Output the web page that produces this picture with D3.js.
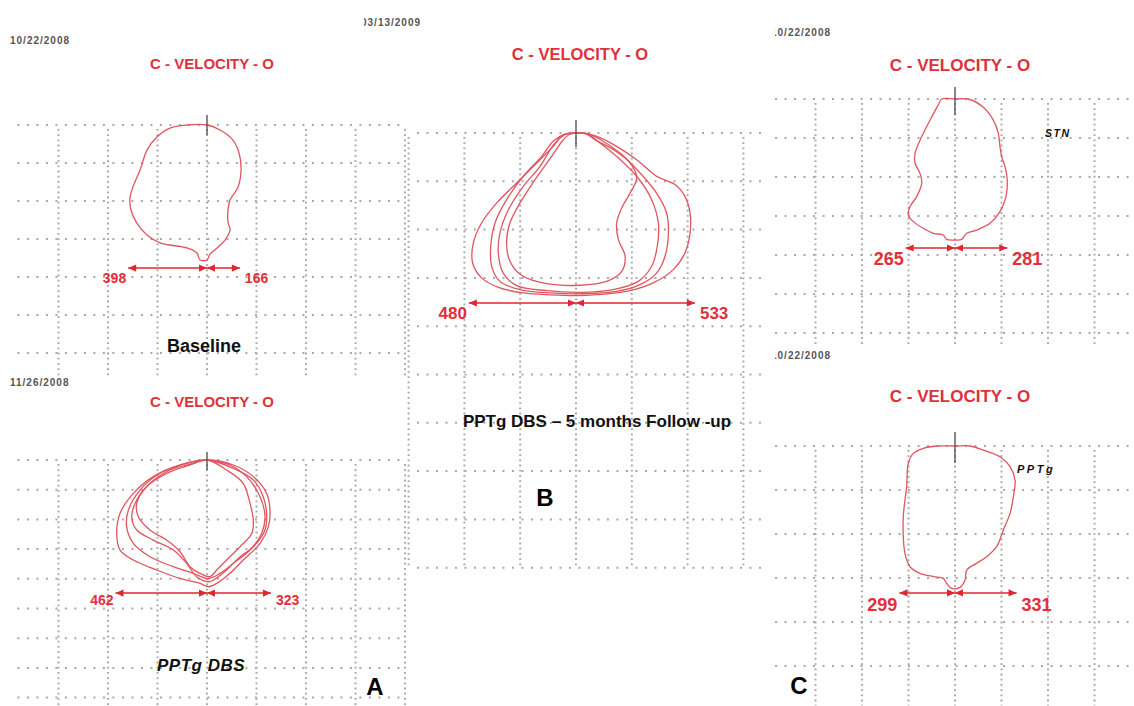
<!DOCTYPE html>
<html>
<head>
<meta charset="utf-8">
<script src="https://cdn.jsdelivr.net/npm/d3@7"></script>
<style>
  body { margin: 0; background: #fff; }
  svg { display: block; }
</style>
</head>
<body>
<svg id="chart" width="1134" height="706"></svg>
<script>
// Velocity loops: units are display units, 250 per grid cell.
// Each loop point is [x, y] relative to the top marker; y grows downward.
const CELL = 250;

const plotTitle = "C - VELOCITY - O";
const recordDates = ["10/22/2008", "11/26/2008", "03/13/2009", "10/22/2008", "10/22/2008"];
const captions = ["Baseline", "PPTg DBS", "PPTg DBS \u2013 5 months Follow -up", "STN", "PPTg"];
const leftExtent = [398, 462, 480, 265, 299];
const rightExtent = [166, 323, 533, 281, 331];
const panelLetters = ["A", "B", "C"];

const baselineLoops = [
  [[0,0],[66,33],[131,99],[162,184],[172,296],[157,408],[116,494],[106,559],[106,638],[116,691],[91,757],[51,809],[15,849],[0,888],[-35,888],[-51,842],[-101,809],[-237,776],[-303,724],[-354,645],[-384,559],[-389,480],[-374,408],[-338,296],[-303,165],[-253,79],[-187,20],[-101,0]]
];

const pptgDbsLoops = [
  [[0,0],[133,42],[234,140],[301,281],[318,421],[310,561],[268,702],[183,842],[116,954],[49,1039],[7,1067],[-35,1039],[-136,997],[-254,926],[-372,842],[-439,758],[-456,618],[-439,449],[-372,281],[-271,140],[-136,42]],
  [[0,0],[116,42],[200,140],[268,309],[293,477],[276,618],[217,758],[133,870],[66,954],[7,997],[-69,954],[-170,898],[-288,814],[-372,702],[-406,561],[-397,421],[-338,253],[-237,112],[-103,28]],
  [[0,0],[99,84],[183,196],[217,365],[234,505],[226,618],[167,730],[99,842],[49,926],[15,982],[-35,954],[-86,898],[-136,772],[-204,674],[-288,589],[-347,477],[-355,365],[-305,225],[-204,112],[-86,42]],
  [[0,0],[133,70],[234,168],[284,309],[301,449],[293,589],[234,730],[167,814],[99,926],[32,1011],[7,1025],[-52,982],[-103,870],[-170,758],[-271,674],[-355,589],[-380,477],[-355,337],[-288,196],[-187,84],[-69,28]]
];

const followUpLoops = [
  [[0,0],[60,6],[120,30],[182,69],[272,138],[361,224],[444,267],[488,328],[511,414],[511,518],[488,621],[436,707],[346,776],[227,820],[93,837],[3,842],[-116,838],[-236,828],[-341,802],[-423,750],[-463,673],[-460,569],[-423,466],[-355,362],[-266,259],[-176,155],[-102,69],[-57,10]],
  [[0,0],[55,5],[110,35],[197,104],[287,207],[361,311],[406,414],[414,518],[399,638],[361,725],[287,785],[182,820],[33,832],[-116,828],[-251,811],[-341,768],[-378,690],[-382,587],[-363,466],[-311,345],[-236,224],[-154,121],[-100,40],[-50,6]],
  [[0,0],[50,5],[100,45],[182,121],[272,224],[339,345],[369,466],[364,587],[339,690],[279,768],[167,811],[18,825],[-131,816],[-266,790],[-326,725],[-348,621],[-341,518],[-303,397],[-236,276],[-161,173],[-100,60],[-50,8]],
  [[0,0],[45,5],[90,38],[167,86],[242,155],[272,233],[242,311],[205,388],[182,466],[190,552],[220,638],[205,716],[137,768],[18,788],[-131,780],[-243,738],[-296,664],[-311,569],[-296,466],[-251,362],[-184,242],[-109,121],[-60,40],[-30,8]]
];

const stnLoops = [
  [[-72,0],[0,0],[72,0],[152,53],[206,135],[233,220],[242,306],[251,370],[269,434],[281,519],[274,626],[242,722],[188,797],[116,840],[63,861],[36,900],[0,904],[-45,900],[-63,872],[-116,861],[-170,829],[-224,786],[-251,744],[-242,690],[-206,626],[-179,541],[-188,477],[-215,412],[-215,348],[-179,241],[-134,135],[-90,38]]
];

const pptgLoops = [
  [[-99,0],[0,0],[81,0],[152,23],[242,61],[296,117],[323,193],[314,288],[296,383],[260,477],[224,572],[170,629],[116,667],[63,705],[54,761],[27,803],[-18,809],[-45,780],[-63,752],[-116,742],[-188,724],[-242,686],[-269,610],[-278,515],[-278,402],[-269,307],[-260,231],[-251,98],[-224,42],[-170,13]]
];

const loopSets = [baselineLoops, pptgDbsLoops, followUpLoops, stnLoops, pptgLoops];

// Panel placement on the page (pixels) and grid extents (cells)
const layout = [
  { ox: 207, oy: 125, cw: 49.5, ch: 38.0, vCols: [-3, 4], vDepth: 6.6, hRows: 6, hSpan: [-3.83, 4],
    ruler: 941, tick: [-10, 10], titleX: 212, titleY: 69, titleSize: 15,
    dateX: 10, dateY: 44, dateClip: null,
    capX: 204, capY: 352, capSize: 18, capItalic: false, capLs: 0,
    valSize: 14, valDy: 15 },
  { ox: 207, oy: 460, cw: 49.5, ch: 29.7, vCols: [-3, 4], vDepth: 8.3, hRows: 8, hSpan: [-3.83, 4],
    ruler: 1120, tick: [-8, 10], titleX: 212, titleY: 407, titleSize: 15,
    dateX: 10, dateY: 386, dateClip: null,
    capX: 201, capY: 671, capSize: 17, capItalic: true, capLs: 0.5,
    valSize: 14, valDy: 12 },
  { ox: 576, oy: 133, cw: 55.8, ch: 48.3, vCols: [-3, 3], vDepth: 9, hRows: 9, hSpan: [-2.85, 3.45],
    ruler: 880, tick: [-13, 14], titleX: 580, titleY: 60, titleSize: 16.5,
    dateX: 361, dateY: 26, dateClip: 364,
    capX: 597, capY: 427, capSize: 17, capItalic: false, capLs: 0,
    valSize: 17, valDy: 16 },
  { ox: 955, oy: 99, cw: 46.5, ch: 39.0, vCols: [-3, 3], vDepth: 6.3, hRows: 6, hSpan: [-3.87, 3.85],
    ruler: 955, tick: [-12, 16], titleX: 960, titleY: 71, titleSize: 17,
    dateX: 771, dateY: 36, dateClip: 775,
    capX: 1045, capY: 137, capSize: 10.5, capItalic: true, capLs: 1.5, capAnchor: "start",
    valSize: 18, valDy: 17 },
  { ox: 955, oy: 446, cw: 46.5, ch: 44.0, vCols: [-3, 3], vDepth: 5.9, hRows: 5, hSpan: [-3.87, 3.85],
    ruler: 835, tick: [-14, 17], titleX: 960, titleY: 402, titleSize: 17,
    dateX: 771, dateY: 359, dateClip: 775,
    capX: 1017, capY: 473, capSize: 11, capItalic: true, capLs: 2.5, capAnchor: "start",
    valSize: 18, valDy: 18 }
];

const letterPos = [ { x: 375, y: 695 }, { x: 545, y: 506 }, { x: 799, y: 694 } ];

const FONT = "'Liberation Sans', Arial, sans-serif";
const RED_TEXT = "#e0303a";
const RED_TRACE = "#e05560";
const GRID = "#a8a8a8";

const svg = d3.select("#chart");
const defs = svg.append("defs");

layout.forEach((L, i) => {
  const g = svg.append("g").attr("class", "panel");
  const x = d3.scaleLinear().domain([0, CELL]).range([L.ox, L.ox + L.cw]);
  const y = d3.scaleLinear().domain([0, CELL]).range([L.oy, L.oy + L.ch]);

  // dotted grid
  const cols = d3.range(L.vCols[0], L.vCols[1] + 1).map(c => c * CELL);
  const rows = d3.range(0, L.hRows + 1).map(r => r * CELL);
  g.append("g").selectAll("line").data(rows).join("line")
    .attr("x1", x(L.hSpan[0] * CELL)).attr("x2", x(L.hSpan[1] * CELL))
    .attr("y1", d => y(d)).attr("y2", d => y(d))
    .attr("stroke", GRID).attr("stroke-width", 2).attr("stroke-dasharray", "2,7.5");
  g.append("g").selectAll("line").data(cols).join("line")
    .attr("x1", d => x(d)).attr("x2", d => x(d))
    .attr("y1", y(0) + 4).attr("y2", y(L.vDepth * CELL))
    .attr("stroke", GRID).attr("stroke-width", 2).attr("stroke-dasharray", "1.8,3.4");

  // velocity loops
  const line = d3.line().x(d => x(d[0])).y(d => y(d[1]))
    .curve(d3.curveCatmullRomClosed.alpha(0.5));
  g.append("g").selectAll("path").data(loopSets[i]).join("path")
    .attr("d", line)
    .attr("fill", "none").attr("stroke", RED_TRACE).attr("stroke-width", 1.3)
    .attr("stroke-linejoin", "round");

  // top marker
  g.append("line")
    .attr("x1", x(0)).attr("x2", x(0))
    .attr("y1", y(0) + L.tick[0]).attr("y2", y(0) + L.tick[1])
    .attr("stroke", "#555").attr("stroke-width", 1.4);

  // extent ruler
  const ay = y(L.ruler);
  const xl = x(-leftExtent[i]), xr = x(rightExtent[i]), xc = x(0);
  const ruler = g.append("g").attr("fill", "#e0262f").attr("stroke", "none");
  ruler.append("line").attr("x1", xl).attr("x2", xr).attr("y1", ay).attr("y2", ay)
    .attr("stroke", "#e0262f").attr("stroke-width", 1.5);
  const hl = 8, hw = 3.6;
  const tri = (tipX, dir) => `M${tipX},${ay}L${tipX + dir * hl},${ay - hw}L${tipX + dir * hl},${ay + hw}Z`;
  ruler.append("path").attr("d", tri(xl, 1));
  ruler.append("path").attr("d", tri(xr, -1));
  ruler.append("path").attr("d", tri(xc, -1));
  ruler.append("path").attr("d", tri(xc, 1));

  g.append("text").attr("x", xl - 2).attr("y", ay + L.valDy)
    .attr("text-anchor", "end").attr("font-family", FONT).attr("font-weight", "bold")
    .attr("font-size", L.valSize).attr("fill", RED_TEXT).text(leftExtent[i]);
  g.append("text").attr("x", xr + 5).attr("y", ay + L.valDy)
    .attr("text-anchor", "start").attr("font-family", FONT).attr("font-weight", "bold")
    .attr("font-size", L.valSize).attr("fill", RED_TEXT).text(rightExtent[i]);

  // title
  g.append("text").attr("x", L.titleX).attr("y", L.titleY)
    .attr("text-anchor", "middle").attr("font-family", FONT).attr("font-weight", "bold")
    .attr("font-size", L.titleSize).attr("fill", RED_TEXT).text(plotTitle);

  // recording date
  const date = g.append("text").attr("x", L.dateX).attr("y", L.dateY)
    .attr("font-family", FONT).attr("font-weight", "bold").attr("font-size", 10)
    .attr("letter-spacing", 1).attr("fill", "#555").text(recordDates[i]);
  if (L.dateClip !== null) {
    const id = "dateclip" + i;
    defs.append("clipPath").attr("id", id).append("rect")
      .attr("x", L.dateClip).attr("y", L.dateY - 14).attr("width", 120).attr("height", 20);
    date.attr("clip-path", `url(#${id})`);
  }

  // caption
  g.append("text").attr("x", L.capX).attr("y", L.capY)
    .attr("text-anchor", L.capAnchor || "middle")
    .attr("font-family", FONT).attr("font-weight", "bold")
    .attr("font-style", L.capItalic ? "italic" : "normal")
    .attr("letter-spacing", L.capLs)
    .attr("font-size", L.capSize).attr("fill", "#111").text(captions[i]);
});

// panel letters
svg.append("g").selectAll("text").data(panelLetters).join("text")
  .attr("x", (d, i) => letterPos[i].x).attr("y", (d, i) => letterPos[i].y)
  .attr("text-anchor", "middle").attr("font-family", FONT).attr("font-weight", "bold")
  .attr("font-size", 24).attr("fill", "#000").text(d => d);
</script>
</body>
</html>
